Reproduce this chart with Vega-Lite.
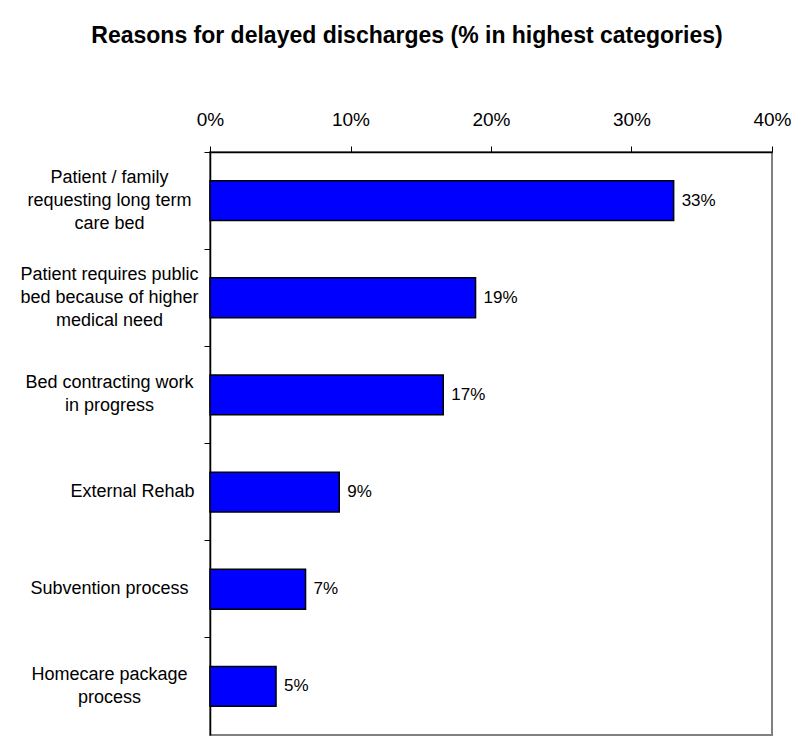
{
  "$schema": "https://vega.github.io/schema/vega-lite/v6.json",
  "autosize": "none",
  "width": 562,
  "height": 583,
  "padding": {"left": 210, "top": 152, "right": 35, "bottom": 13},
  "background": "white",
  "title": {
    "text": "Reasons for delayed discharges (% in highest categories)",
    "font": "Liberation Sans",
    "fontSize": 23,
    "fontWeight": "bold",
    "color": "black",
    "anchor": "middle",
    "dx": -84,
    "offset": 62
  },
  "data": {
    "values": [
      {"reason": "Patient / family|requesting long term|care bed", "share": 0.330},
      {"reason": "Patient requires public|bed because of higher|medical need", "share": 0.189},
      {"reason": "Bed contracting work|in progress", "share": 0.166},
      {"reason": "External Rehab", "share": 0.092},
      {"reason": "Subvention process", "share": 0.068},
      {"reason": "Homecare package|process", "share": 0.047}
    ]
  },
  "encoding": {
    "x": {
      "field": "share",
      "type": "quantitative",
      "scale": {"domain": [0, 0.4], "nice": false, "zero": true},
      "axis": {
        "orient": "top",
        "title": null,
        "format": ".0%",
        "values": [0, 0.1, 0.2, 0.3, 0.4],
        "grid": false,
        "domainColor": "black",
        "domainWidth": 1.5,
        "tickColor": "black",
        "tickSize": 6,
        "tickWidth": 1,
        "labelFont": "Liberation Sans",
        "labelFontSize": 19,
        "labelColor": "black",
        "labelPadding": 17,
        "labelFlush": false
      }
    }
  },
  "layer": [
    {
      "mark": {"type": "bar", "color": "#0000FF", "stroke": "black", "strokeWidth": 1.5, "height": {"band": 0.41}},
      "encoding": {
        "y": {
          "field": "reason",
          "type": "nominal",
          "sort": null,
          "scale": {"paddingInner": 0, "paddingOuter": 0},
          "axis": {
            "orient": "left",
            "title": null,
            "bandPosition": 0,
            "labelExpr": "datum.label == 'External Rehab' ? '' : split(datum.label, '|')",
            "labelAlign": "center",
            "labelBaseline": "middle",
            "labelPadding": 95,
            "labelOffset": {
              "condition": [
                {"test": "length(split(datum.label, '|')) == 3", "value": -23},
                {"test": "length(split(datum.label, '|')) == 2", "value": -11.5}
              ],
              "value": 0
            },
            "labelLimit": 400,
            "labelLineHeight": 23,
            "labelFont": "Liberation Sans",
            "labelFontSize": 18,
            "labelColor": "black",
            "domainColor": "black",
            "domainWidth": 1.5,
            "tickColor": "black",
            "tickSize": 6,
            "grid": false
          }
        }
      }
    },
    {
      "mark": {"type": "text", "align": "left", "baseline": "middle", "dx": 8, "font": "Liberation Sans", "fontSize": 17, "color": "black"},
      "encoding": {
        "y": {
          "field": "reason",
          "type": "nominal",
          "sort": null,
          "axis": {
            "orient": "left",
            "title": null,
            "labelExpr": "datum.label == 'External Rehab' ? datum.label : ''",
            "labelAlign": "right",
            "labelBaseline": "middle",
            "labelPadding": 16,
            "labelLimit": 400,
            "labelFont": "Liberation Sans",
            "labelFontSize": 18,
            "labelColor": "black",
            "domain": false,
            "ticks": false,
            "tickSize": 0,
            "grid": false
          }
        },
        "text": {"field": "share", "type": "quantitative", "format": ".0%"}
      }
    }
  ],
  "resolve": {"axis": {"y": "independent"}},
  "config": {
    "view": {"stroke": "#808080", "strokeWidth": 2}
  }
}
